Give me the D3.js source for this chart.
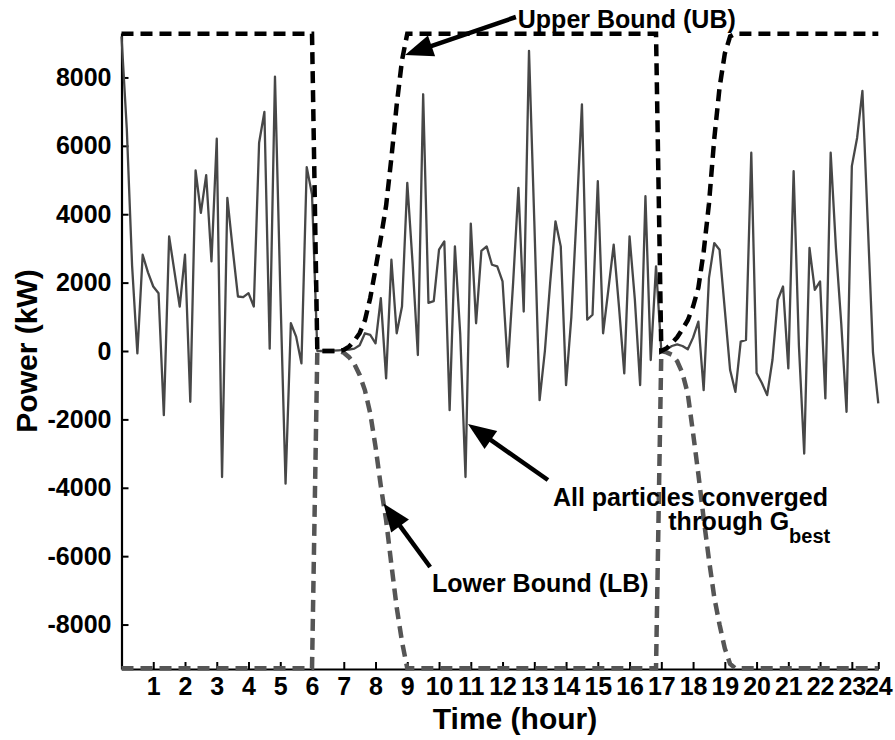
<!DOCTYPE html>
<html><head><meta charset="utf-8">
<script src="https://cdn.jsdelivr.net/npm/d3@7"></script>
<style>
body{margin:0;background:#fff}
svg{display:block}
text{font-family:"Liberation Sans",Arial,Helvetica,sans-serif;font-weight:bold}
</style>
</head><body>
<svg id="chart" width="895" height="740"></svg>
<script>
// ---- DATA (10-minute resolution, 144 samples) ----
const stepsPerHour = 6;
const power = [
 9200, 6500, 2500, -70, 2816, 2300, 1886, 1691, -1877, 3353,
 2327, 1300, 2816, -1486, 5279, 4038, 5142, 2620, 6209, -3686,
 4478, 3000, 1594, 1574, 1691, 1300, 6091, 6990, 70, 8026,
 1800, -3881, 812, 420, -362, 5377, 4575, 0, 0, 0,
 10, 20, 30, 40, 70, 167, 518, 470, 225, 1545,
 -801, 2669, 518, 1300, 4918, 2569, -117, 7508, 1408, 1456,
 2962, 3206, -1730, 3060, 500, -3686, 3725, 812, 2931, 3060,
 2523, 2475, 2034, -460, 2000, 4771, 1153, 8780, 3800, -1437,
 0, 2000, 3793, 3060, -997, 1000, 4000, 7215, 915, 1061,
 4966, 518, 1800, 3109, 1300, -655, 3353, 1500, -997, 4526,
 -264, 2475, 0, 50, 147, 196, 147, 49, 391, 860,
 -1144, 2132, 3157, 2962, 1202, -557, -1193, 274, 323, 5798,
 -645, -938, -1290, -264, 1496, 1886, -508, 5259, 156, -3000,
 3012, 1790, 2034, -1388, 5798, 3000, 800, -1779, 5406, 6238,
 7606, 3773, -51, -1535
];
const upperBound = [
 9280,9280,9280,9280,9280,9280,9280,9280,9280,9280,
 9280,9280,9280,9280,9280,9280,9280,9280,9280,9280,
 9280,9280,9280,9280,9280,9280,9280,9280,9280,9280,
 9280,9280,9280,9280,9280,9280,9280,0,0,0,
 0,0,30,130,300,520,900,1550,2400,3300,
 4250,5650,7200,8500,9280,9280,9280,9280,9280,9280,
 9280,9280,9280,9280,9280,9280,9280,9280,9280,9280,
 9280,9280,9280,9280,9280,9280,9280,9280,9280,9280,
 9280,9280,9280,9280,9280,9280,9280,9280,9280,9280,
 9280,9280,9280,9280,9280,9280,9280,9280,9280,9280,
 9280,9280,0,80,230,400,640,900,1300,1850,
 2900,4300,6200,7700,8700,9200,9280,9280,9280,9280,
 9280,9280,9280,9280,9280,9280,9280,9280,9280,9280,
 9280,9280,9280,9280,9280,9280,9280,9280,9280,9280,
 9280,9280,9280,9280
];
const lowerBound = [
 -9280,-9280,-9280,-9280,-9280,-9280,-9280,-9280,-9280,-9280,
 -9280,-9280,-9280,-9280,-9280,-9280,-9280,-9280,-9280,-9280,
 -9280,-9280,-9280,-9280,-9280,-9280,-9280,-9280,-9280,-9280,
 -9280,-9280,-9280,-9280,-9280,-9280,-9280,0,0,0,
 0,0,-50,-180,-380,-700,-1150,-1820,-2800,-3950,
 -4950,-6250,-7500,-8500,-9280,-9280,-9280,-9280,-9280,-9280,
 -9280,-9280,-9280,-9280,-9280,-9280,-9280,-9280,-9280,-9280,
 -9280,-9280,-9280,-9280,-9280,-9280,-9280,-9280,-9280,-9280,
 -9280,-9280,-9280,-9280,-9280,-9280,-9280,-9280,-9280,-9280,
 -9280,-9280,-9280,-9280,-9280,-9280,-9280,-9280,-9280,-9280,
 -9280,-9280,0,-40,-110,-300,-650,-1250,-2400,-3600,
 -4900,-6100,-7200,-8000,-8700,-9150,-9280,-9280,-9280,-9280,
 -9280,-9280,-9280,-9280,-9280,-9280,-9280,-9280,-9280,-9280,
 -9280,-9280,-9280,-9280,-9280,-9280,-9280,-9280,-9280,-9280,
 -9280,-9280,-9280,-9280
];
const xTickLabels = ["1","2","3","4","5","6","7","8","9","10","11","12",
  "13","14","15","16","17","18","19","20","21","22","23","24"];
const yTickValues = [-8000,-6000,-4000,-2000,0,2000,4000,6000,8000];
const yDomain = [-9300, 9300];

// ---- SCALES ----
const time = power.map((_, i) => i / stepsPerHour);
const tMax = time[time.length - 1];
const svg = d3.select("#chart");
svg.append("rect").attr("width",895).attr("height",740).attr("fill","#fff");

const x = d3.scaleLinear().domain([0, tMax]).range([121.5, 878.3]);
const y = d3.scaleLinear().domain(yDomain).range([669, 33]);

const FONT = '"Liberation Sans",Arial,Helvetica,sans-serif';

// ---- AXES ----
const xTickValues = xTickLabels.map(l => Math.min(+l, tMax));
const xAxis = d3.axisBottom(x).tickValues(xTickValues)
  .tickFormat((d, i) => xTickLabels[i]).tickSize(-7).tickSizeOuter(0).tickPadding(8);
const gx = svg.append("g").attr("transform", `translate(0,${y.range()[0]})`).call(xAxis);
const yAxis = d3.axisLeft(y).tickValues(yTickValues).tickFormat(d => String(d))
  .tickSize(-7).tickSizeOuter(0).tickPadding(10);
const gy = svg.append("g").attr("transform", `translate(${x.range()[0]},0)`).call(yAxis);
[gx, gy].forEach(g => {
  g.attr("font-size", 25).attr("font-family", FONT).attr("font-weight", "bold");
  g.select(".domain").attr("stroke", "#000").attr("stroke-width", 2.2);
  g.selectAll(".tick line").attr("stroke", "#000").attr("stroke-width", 2);
  g.selectAll(".tick text").attr("fill", "#000");
});

// ---- LINES ----
const line = d3.line().x((d, i) => x(time[i])).y(d => y(d));
svg.append("path").datum(power).attr("d", line)
  .attr("fill", "none").attr("stroke", "#474747").attr("stroke-width", 2.3)
  .attr("stroke-linejoin", "round");
svg.append("path").datum(lowerBound).attr("d", line)
  .attr("fill", "none").attr("stroke", "#555").attr("stroke-width", 4.5)
  .attr("stroke-dasharray", "12,7");
svg.append("path").datum(upperBound).attr("d", line)
  .attr("fill", "none").attr("stroke", "#000").attr("stroke-width", 4.5)
  .attr("stroke-dasharray", "12,7");

// ---- ANNOTATIONS (in data units) ----
function arrow(t0, v0, t1, v1) {
  const x0 = x(t0), y0 = y(v0), x1 = x(t1), y1 = y(v1);
  const a = Math.atan2(y1 - y0, x1 - x0), L = 28, W = 11;
  const bx = x1 - L * Math.cos(a), by = y1 - L * Math.sin(a);
  svg.append("line").attr("x1", x0).attr("y1", y0).attr("x2", bx + 2*Math.cos(a)).attr("y2", by + 2*Math.sin(a))
    .attr("stroke", "#000").attr("stroke-width", 4.5);
  svg.append("path")
    .attr("d", `M${x1},${y1}L${bx - W*Math.sin(a)},${by + W*Math.cos(a)}L${bx + W*Math.sin(a)},${by - W*Math.cos(a)}Z`)
    .attr("fill", "#000");
}
function label(t, v, txt, anchor) {
  return svg.append("text").attr("x", x(t)).attr("y", y(v)).attr("font-size", 25)
    .attr("text-anchor", anchor || "start").attr("fill", "#000").text(txt);
}
label(12.48, 9446, "Upper Bound (UB)");
arrow(12.42, 9768, 8.93, 8657);

label(22.25, -4533, "All particles converged", "end");
const tg = svg.append("text").attr("x", x(22.32)).attr("y", y(-5240)).attr("font-size", 25)
  .attr("text-anchor", "end").attr("fill", "#000");
tg.append("tspan").text("through G");
tg.append("tspan").attr("dy", 12.4).attr("font-size", 20).text("best");
arrow(13.43, -3773, 10.91, -2135);

label(9.78, -7048, "Lower Bound (LB)");
arrow(9.72, -6317, 8.25, -4460);

// ---- AXIS TITLES ----
svg.append("text").attr("x", 515).attr("y", 729).attr("text-anchor", "middle")
  .attr("font-size", 30).attr("fill", "#000").text("Time (hour)");
svg.append("text").attr("transform", "translate(37,351) rotate(-90)").attr("text-anchor", "middle")
  .attr("font-size", 30).attr("fill", "#000").text("Power (kW)");
</script>
</body></html>
